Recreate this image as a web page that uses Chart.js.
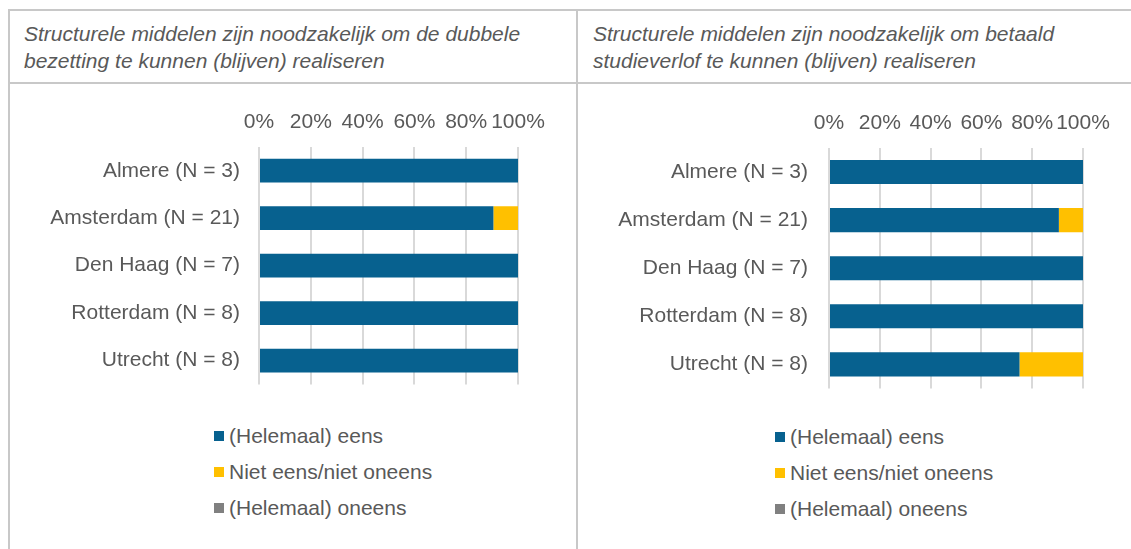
<!DOCTYPE html>
<html>
<head>
<meta charset="utf-8">
<script src="https://cdn.jsdelivr.net/npm/chart.js@4"></script>
<style>
  body { margin: 0; background: #fff; width: 1131px; height: 549px; overflow: hidden; font-family: "Liberation Sans", Arial, sans-serif; color: #595959; }
  .frame { position: absolute; left: 8px; top: 9px; width: 1123px; height: 540px; border-left: 2px solid #c8c8c8; border-top: 2px solid #c8c8c8; box-sizing: border-box; }
  .divider { position: absolute; left: 576px; top: 9px; width: 2px; height: 540px; background: #c8c8c8; }
  .hline { position: absolute; left: 8px; top: 82px; width: 1123px; height: 2px; background: #c8c8c8; }
  .title { position: absolute; top: 20px; font-style: italic; font-size: 21px; line-height: 27px; white-space: nowrap; }
  .box { position: absolute; }
  .legend { position: absolute; font-size: 21px; }
  .legend div { position: relative; height: 36px; line-height: 24px; padding-left: 15px; white-space: nowrap; }
  .legend span { position: absolute; left: 0; top: 7px; width: 10px; height: 10px; }
</style>
</head>
<body>
<div class="frame"></div>
<div class="divider"></div>
<div class="hline"></div>
<div class="title" style="left:24px">Structurele middelen zijn noodzakelijk om de dubbele<br>bezetting te kunnen (blijven) realiseren</div>
<div class="title" style="left:593px">Structurele middelen zijn noodzakelijk om betaald<br>studieverlof te kunnen (blijven) realiseren</div>
<div class="box" style="left:8px;top:100px;width:560px;height:316px"><canvas id="chartLeft"></canvas></div>
<div class="box" style="left:585px;top:101px;width:540px;height:321px"><canvas id="chartRight"></canvas></div>
<div class="legend" id="legendLeft" style="left:214px;top:424px"></div>
<div class="legend" id="legendRight" style="left:775px;top:425px"></div>
<script>
const categories = ['Almere (N = 3)', 'Amsterdam (N = 21)', 'Den Haag (N = 7)', 'Rotterdam (N = 8)', 'Utrecht (N = 8)'];
const seriesNames = ['(Helemaal) eens', 'Niet eens/niet oneens', '(Helemaal) oneens'];
const seriesColors = ['#07618f', '#ffc000', '#808080'];
const xTicks = [0, 20, 40, 60, 80, 100];

// dubbele bezetting
const leftEens = [100, 90.5, 100, 100, 100];
const leftNeutraal = [0, 9.5, 0, 0, 0];
const leftOneens = [0, 0, 0, 0, 0];

// betaald studieverlof
const rightEens = [100, 90.5, 100, 100, 75];
const rightNeutraal = [0, 9.5, 0, 0, 25];
const rightOneens = [0, 0, 0, 0, 0];

Chart.defaults.font.family = '"Liberation Sans", Arial, sans-serif';
Chart.defaults.color = '#595959';

function makeChart(id, values, yWidth, padRight, labelGap) {
    return new Chart(document.getElementById(id), {
        type: 'bar',
        data: {
            labels: categories,
            datasets: values.map((v, i) => ({
                label: seriesNames[i], data: v, backgroundColor: seriesColors[i],
                barPercentage: 0.5, categoryPercentage: 1
            }))
        },
        options: {
            indexAxis: 'y', responsive: true, maintainAspectRatio: false, animation: false,
            layout: { padding: { left: 0, right: padRight, top: 0, bottom: 0 } },
            plugins: { legend: { display: false }, tooltip: { enabled: false } },
            scales: {
                x: {
                    position: 'top', stacked: true, min: 0, max: 100,
                    afterBuildTicks: axis => { axis.ticks = xTicks.map(v => ({ value: v })); },
                    afterFit: axis => { axis.height = 47; },
                    ticks: { callback: v => v + '%', font: { size: 21 }, color: '#595959', padding: 12, maxRotation: 0, autoSkip: false },
                    grid: { color: '#d9d9d9', lineWidth: 2, drawTicks: false },
                    border: { display: false }
                },
                y: {
                    stacked: true,
                    afterFit: axis => { axis.width = yWidth; },
                    ticks: { font: { size: 21 }, color: '#595959', padding: labelGap },
                    grid: { display: false, drawTicks: false },
                    border: { display: false }
                }
            }
        }
    });
}

function buildLegend(elId) {
    const el = document.getElementById(elId);
    seriesNames.forEach((name, i) => {
        const row = document.createElement('div');
        row.innerHTML = `<span style="background:${seriesColors[i]}"></span>${name}`;
        el.appendChild(row);
    });
}

makeChart('chartLeft', [leftEens, leftNeutraal, leftOneens], 251, 50, 19);
makeChart('chartRight', [rightEens, rightNeutraal, rightOneens], 244, 42, 21);
buildLegend('legendLeft');
buildLegend('legendRight');
</script>
</body>
</html>
